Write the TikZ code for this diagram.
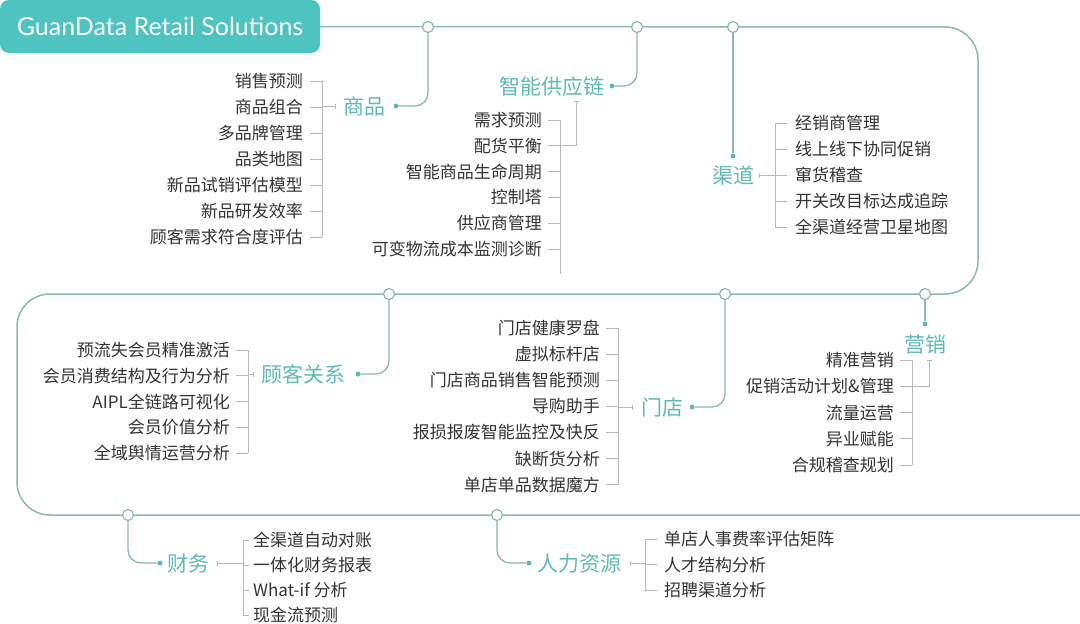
\documentclass[tikz,border=0pt]{standalone}
\usepackage{fontspec}
\setmainfont{Lato}
\newfontfamily\cjk{Noto Sans CJK SC}
\usetikzlibrary{arrows.meta, positioning}
\definecolor{cteal}{HTML}{4DC4C0}
\definecolor{cline}{HTML}{8DB6B5}
\definecolor{clabel}{HTML}{5DBAB4}
\definecolor{cgrey}{HTML}{B8B8B8}
\definecolor{ctext}{HTML}{333333}
\tikzset{
  titlebox/.style={fill=cteal, rounded corners=9pt, text=white, minimum width=320pt, minimum height=53pt, font=\fontsize{25}{25}\selectfont},
  spine/.style={draw=cline, line width=1.5pt, rounded corners=33pt},
  branch/.style={draw=cline, line width=1.3pt, rounded corners=13pt},
  hub/.style={circle, draw=cline, fill=white, line width=1.2pt, minimum size=11pt, inner sep=0pt},
  dot/.style={circle, fill=clabel, minimum size=5pt, inner sep=0pt},
  cat/.style={font=\cjk\fontsize{21}{21}\selectfont, text=clabel, inner sep=0pt, text height=18.5pt, text depth=2.5pt},
  item/.style={font=\cjk\fontsize{17}{17}\selectfont, text=ctext, inner sep=0pt, text height=15pt, text depth=2pt},
  brace/.style={draw=cgrey, line width=1pt},
  tick/.style={brace, {Bar[width=5pt]}-},
}
\begin{document}
\begin{tikzpicture}[x=1pt, y=-1pt]
  \useasboundingbox (0,0) rectangle (1080,624);
  \node[titlebox] (title) at (160,26.5) {GuanData Retail Solutions};
  \draw[spine] (title.east) -- (978,27) -- (978,294) -- (17,294) -- (17,515) -- (1080,515);

  \node[hub] (h1) at (428,27) {};
  \node[hub] (h2) at (637,27) {};
  \node[hub] (h3) at (733,27) {};
  \node[hub] (h4) at (389,294) {};
  \node[hub] (h5) at (725,294) {};
  \node[hub] (h6) at (925,294) {};
  \node[hub] (h7) at (128,515) {};
  \node[hub] (h8) at (497,515) {};

  \node[dot] (d1) at (396,106) {};
  \node[dot] (d2) at (612,86) {};
  \node[dot] (d3) at (733,156) {};
  \node[dot] (d4) at (358,374) {};
  \node[dot] (d5) at (692,407) {};
  \node[dot] (d6) at (925,324) {};
  \node[dot] (d7) at (160,563) {};
  \node[dot] (d8) at (529,563) {};
  \draw[branch] (h1) |- (d1);
  \draw[branch] (h2) |- (d2);
  \draw[branch] (h3) -- (d3);
  \draw[branch] (h4) |- (d4);
  \draw[branch] (h5) |- (d5);
  \draw[branch] (h6) -- (d6);
  \draw[branch] (h7) |- (d7);
  \draw[branch] (h8) |- (d8);

  \node[cat, left=8pt of d1] (l1) {商品};
  \node[cat, left=5pt of d2] (l2) {智能供应链};
  \node[cat, below=6pt of d3] (l3) {渠道};
  \node[cat, left=10pt of d4] (l4) {顾客关系};
  \node[cat, left=6pt of d5] (l5) {门店};
  \node[cat, below=7pt of d6] (l6) {营销};
  \node[cat, right=5pt of d7] (l7) {财务};
  \node[cat, right=6pt of d8] (l8) {人力资源};

  % 商品
  \foreach \t [count=\i] in {销售预测, 商品组合, 多品牌管理, 品类地图, 新品试销评估模型, 新品研发效率, 顾客需求符合度评估}
    \node[item, anchor=east] (a\i) at (303,{81+26*(\i-1)}) {\t};
  \foreach \i in {1,...,7} \draw[brace] ([xshift=7pt]a\i.east) -- +(12,0);
  \coordinate (v1) at ([xshift=19pt]a1.east);
  \draw[brace] (v1) -- (v1 |- a7.east);
  \draw[tick] ([xshift=-7pt]l1.west) -- (v1 |- l1.west);

  % 智能供应链
  \foreach \t [count=\i] in {需求预测, 配货平衡, 智能商品生命周期, 控制塔, 供应商管理, 可变物流成本监测诊断}
    \node[item, anchor=east] (b\i) at (542,{120+25.8*(\i-1)}) {\t};
  \foreach \i in {1,...,6} \draw[brace] ([xshift=6pt]b\i.east) -- +(12,0);
  \coordinate (v2) at ([xshift=18pt]b1.east);
  \draw[brace] (v2) -- ++(0,154);
  \draw[tick] ([xshift=25pt, yshift=-4pt]l2.south) |- (v2 |- b2.east);

  % 渠道
  \foreach \t [count=\i] in {经销商管理, 线上线下协同促销, 窜货稽查, 开关改目标达成追踪, 全渠道经营卫星地图}
    \node[item, anchor=west] (c\i) at (795,{123+26*(\i-1)}) {\t};
  \foreach \i in {1,...,5} \draw[brace] ([xshift=-8pt]c\i.west) -- +(-12,0);
  \coordinate (v3) at ([xshift=-20pt]c1.west);
  \draw[brace] (v3) -- (v3 |- c5.west);
  \draw[tick] ([xshift=5pt]l3.east) -- (v3 |- l3.east);

  % 顾客关系
  \foreach \t [count=\i] in {预流失会员精准激活, 会员消费结构及行为分析, AIPL全链路可视化, 会员价值分析, 全域舆情运营分析}
    \node[item, anchor=east] (e\i) at (230,{350+25.75*(\i-1)}) {\t};
  \foreach \i in {1,...,5} \draw[brace] ([xshift=6pt]e\i.east) -- +(12,0);
  \coordinate (v4) at ([xshift=18pt]e1.east);
  \draw[brace] (v4) -- (v4 |- e5.east);
  \draw[tick] ([xshift=-7pt]l4.west) -- (v4 |- l4.west);

  % 门店
  \foreach \t [count=\i] in {门店健康罗盘, 虚拟标杆店, 门店商品销售智能预测, 导购助手, 报损报废智能监控及快反, 缺断货分析, 单店单品数据魔方}
    \node[item, anchor=east] (s\i) at (600,{328+26.1*(\i-1)}) {\t};
  \foreach \i in {1,...,7} \draw[brace] ([xshift=6pt]s\i.east) -- +(12,0);
  \coordinate (v5) at ([xshift=18pt]s1.east);
  \draw[brace] (v5) -- (v5 |- s7.east);
  \draw[tick] ([xshift=-8pt]l5.west) -- (v5 |- l5.west);

  % 营销
  \foreach \t [count=\i] in {精准营销, 促销活动计划\&管理, 流量运营, 异业赋能, 合规稽查规划}
    \node[item, anchor=east] (f\i) at (894,{360+26.25*(\i-1)}) {\t};
  \foreach \i in {1,...,5} \draw[brace] ([xshift=6pt]f\i.east) -- +(12,0);
  \coordinate (v6) at ([xshift=18pt]f1.east);
  \draw[brace] (v6) -- (v6 |- f5.east);
  \draw[tick] ([xshift=4pt, yshift=-5pt]l6.south) |- (v6 |- f2.east);

  % 财务
  \foreach \t [count=\i] in {全渠道自动对账, 一体化财务报表, What-if 分析, 现金流预测}
    \node[item, anchor=west] (m\i) at (253,{540+25*(\i-1)}) {\t};
  \foreach \i in {1,...,4} \draw[brace] ([xshift=-4pt]m\i.west) -- +(-6,0);
  \coordinate (v7) at ([xshift=-10pt]m1.west);
  \draw[brace] (v7) -- (v7 |- m4.west);
  \draw[tick] ([xshift=7pt]l7.east) -- (v7 |- l7.east);

  % 人力资源
  \foreach \t [count=\i] in {单店人事费率评估矩阵, 人才结构分析, 招聘渠道分析}
    \node[item, anchor=west] (r\i) at (664,{539+25.5*(\i-1)}) {\t};
  \foreach \i in {1,...,3} \draw[brace] ([xshift=-7pt]r\i.west) -- +(-12,0);
  \coordinate (v8) at ([xshift=-19pt]r1.west);
  \draw[brace] (v8) -- (v8 |- r3.west);
  \draw[tick] ([xshift=8pt]l8.east) -- (v8 |- l8.east);
\end{tikzpicture}
\end{document}
